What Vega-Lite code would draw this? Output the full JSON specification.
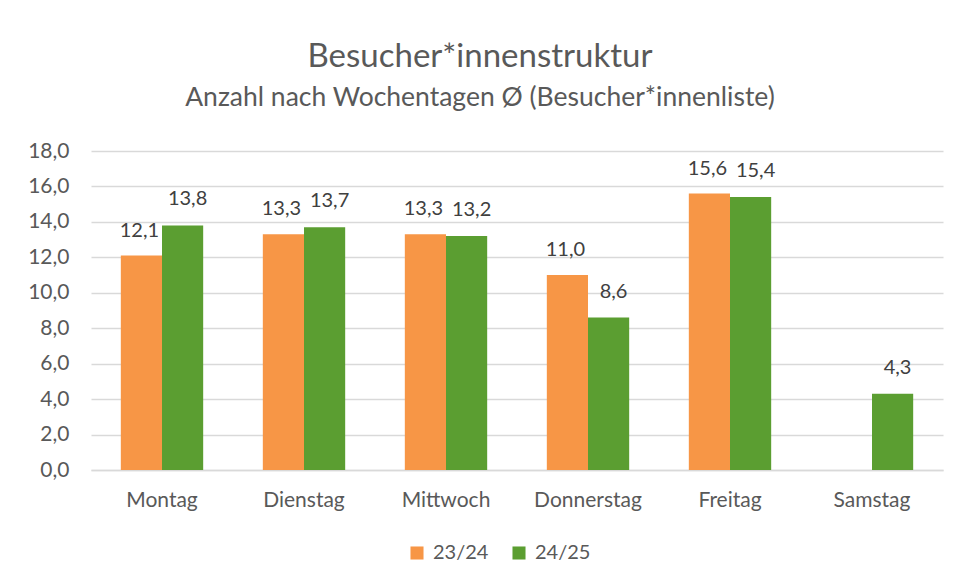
{
  "$schema": "https://vega.github.io/schema/vega-lite/v6.json",
  "width": 852,
  "height": 319,
  "autosize": {"type": "none"},
  "padding": {"left": 91, "top": 151, "right": 16, "bottom": 114},
  "background": "white",
  "config": {
    "font": "Lato",
    "view": {"stroke": null}
  },
  "title": {
    "text": "Besucher*innenstruktur",
    "subtitle": "Anzahl nach Wochentagen Ø (Besucher*innenliste)",
    "anchor": "middle",
    "dx": -37,
    "fontSize": 33,
    "fontWeight": "normal",
    "color": "#595959",
    "subtitleFontSize": 26.5,
    "subtitleColor": "#595959",
    "subtitlePadding": 11,
    "offset": 29,
    "font": "Lato",
    "subtitleFont": "Lato"
  },
  "data": {
    "values": [
      {"tag": "Montag", "jahr": "23/24", "wert": 12.1},
      {"tag": "Montag", "jahr": "24/25", "wert": 13.8},
      {"tag": "Dienstag", "jahr": "23/24", "wert": 13.3},
      {"tag": "Dienstag", "jahr": "24/25", "wert": 13.7},
      {"tag": "Mittwoch", "jahr": "23/24", "wert": 13.3},
      {"tag": "Mittwoch", "jahr": "24/25", "wert": 13.2},
      {"tag": "Donnerstag", "jahr": "23/24", "wert": 11.0},
      {"tag": "Donnerstag", "jahr": "24/25", "wert": 8.6},
      {"tag": "Freitag", "jahr": "23/24", "wert": 15.6},
      {"tag": "Freitag", "jahr": "24/25", "wert": 15.4},
      {"tag": "Samstag", "jahr": "24/25", "wert": 4.3}
    ]
  },
  "transform": [
    {"calculate": "replace(format(datum.wert, '.1f'), '.', ',')", "as": "label"}
  ],
  "encoding": {
    "x": {
      "field": "tag",
      "type": "nominal",
      "sort": ["Montag", "Dienstag", "Mittwoch", "Donnerstag", "Freitag", "Samstag"],
      "scale": {"paddingInner": 0.42, "paddingOuter": 0.21},
      "axis": {
        "title": null,
        "labelAngle": 0,
        "labelFontSize": 21,
        "labelColor": "#595959",
        "labelPadding": 19,
        "ticks": false,
        "domainColor": "#d9d9d9",
        "domainWidth": 1.5
      }
    },
    "xOffset": {"field": "jahr", "type": "nominal", "sort": ["23/24", "24/25"], "scale": {"domain": ["23/24", "24/25"]}},
    "y": {
      "field": "wert",
      "type": "quantitative",
      "scale": {"domain": [0, 18]},
      "axis": {
        "title": null,
        "values": [0, 2, 4, 6, 8, 10, 12, 14, 16, 18],
        "format": ".1f",
        "labelExpr": "replace(datum.label, '.', ',')",
        "labelFontSize": 21,
        "labelColor": "#595959",
        "labelPadding": 22,
        "ticks": false,
        "domain": false,
        "gridColor": "#d9d9d9",
        "gridWidth": 1.5
      }
    }
  },
  "layer": [
    {
      "mark": {"type": "bar"},
      "encoding": {
        "color": {
          "field": "jahr",
          "type": "nominal",
          "scale": {"domain": ["23/24", "24/25"], "range": ["#F79646", "#5B9E31"]},
          "legend": {
            "title": null,
            "orient": "none",
            "direction": "horizontal",
            "legendX": 316,
            "legendY": 392,
            "symbolType": "square",
            "symbolSize": 170,
            "labelFontSize": 20,
            "labelColor": "#595959",
            "columnPadding": 20,
            "labelOffset": 6
          }
        }
      }
    },
    {
      "transform": [{"filter": "datum.jahr === '23/24'"}],
      "mark": {"type": "text", "dy": -25, "dx": -2, "fontSize": 20, "color": "#404040"},
      "encoding": {
        "text": {"field": "label", "type": "nominal"}
      }
    },
    {
      "transform": [{"filter": "datum.jahr === '24/25'"}],
      "mark": {"type": "text", "dy": -26, "dx": 5, "fontSize": 20, "color": "#404040"},
      "encoding": {
        "text": {"field": "label", "type": "nominal"}
      }
    }
  ]
}
